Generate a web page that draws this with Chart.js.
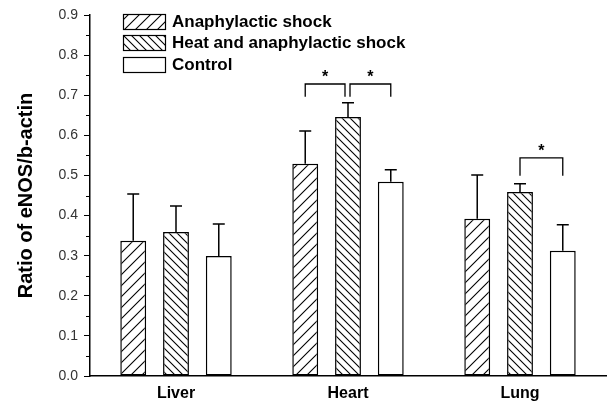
<!DOCTYPE html>
<html>
<head>
<meta charset="utf-8">
<script src="https://cdn.jsdelivr.net/npm/chart.js@4"></script>
<style>
  html, body { margin: 0; padding: 0; background: #fff; }
  #wrap { width: 608px; height: 403px; }
</style>
</head>
<body>
<div id="wrap"><canvas id="eNOSChart"></canvas></div>
<script>
/* ================= DATA ================= */

const organs = ['Liver', 'Heart', 'Lung'];
const seriesNames = ['Anaphylactic shock', 'Heat and anaphylactic shock', 'Control'];

const anaphylactic = [0.337, 0.529, 0.392];
const heatAnaphylactic = [0.359, 0.646, 0.459];
const control = [0.299, 0.484, 0.312];

// upper end of the error bars
const anaphylacticErr = [0.454, 0.611, 0.501];
const heatAnaphylacticErr = [0.424, 0.681, 0.479];
const controlErr = [0.379, 0.514, 0.377];

const yTicks = [0, 0.1, 0.2, 0.3, 0.4, 0.5, 0.6, 0.7, 0.8, 0.9];

// significance brackets: organ index, dataset from/to, top and leg ends
const bracketCat = [1, 1, 2];
const bracketFrom = [0, 1, 1];
const bracketTo = [1, 2, 2];
const bracketTop = [0.728, 0.728, 0.544];
const bracketEnd = [0.696, 0.696, 0.499];

/* ================= PATTERNS ================= */

function hatch(size, dir) {
    const c = document.createElement('canvas');
    c.width = size; c.height = size;
    const g = c.getContext('2d');
    g.fillStyle = '#fff';
    g.fillRect(0, 0, size, size);
    g.strokeStyle = '#000';
    g.lineWidth = 1.1;
    g.beginPath();
    if (dir === '/') {
        g.moveTo(-1, size + 1); g.lineTo(size + 1, -1);
        g.moveTo(-1, 1); g.lineTo(1, -1);
        g.moveTo(size - 1, size + 1); g.lineTo(size + 1, size - 1);
    } else {
        g.moveTo(-1, -1); g.lineTo(size + 1, size + 1);
        g.moveTo(size - 1, -1); g.lineTo(size + 1, 1);
        g.moveTo(-1, size - 1); g.lineTo(1, size + 1);
    }
    g.stroke();
    return g.createPattern(c, 'repeat');
}

const fills = [hatch(11, '/'), hatch(8, '\\'), '#ffffff'];
const errors = [anaphylacticErr, heatAnaphylacticErr, controlErr];

/* ================= PLUGIN: error bars, brackets, legend, labels ================= */

const extras = {
    id: 'extras',
    afterDatasetsDraw(chart) {
        const ctx = chart.ctx;
        const y = chart.scales.y;
        const area = chart.chartArea;

        ctx.save();
        ctx.strokeStyle = '#000';
        ctx.lineWidth = 1.5;

        // error bars
        chart.data.datasets.forEach((ds, i) => {
            const meta = chart.getDatasetMeta(i);
            meta.data.forEach((bar, j) => {
                const yTop = y.getPixelForValue(errors[i][j]);
                ctx.beginPath();
                ctx.moveTo(bar.x, bar.y);
                ctx.lineTo(bar.x, yTop);
                ctx.moveTo(bar.x - 6, yTop);
                ctx.lineTo(bar.x + 6, yTop);
                ctx.stroke();
            });
        });

        // minor ticks
        ctx.lineWidth = 1;
        for (let k = 0; k < yTicks.length - 1; k++) {
            const py = Math.round(y.getPixelForValue(yTicks[k] + 0.05)) + 0.5;
            ctx.beginPath();
            ctx.moveTo(area.left - 4, py);
            ctx.lineTo(area.left, py);
            ctx.stroke();
        }

        // significance brackets
        ctx.lineWidth = 1.3;
        ctx.fillStyle = '#000';
        ctx.font = 'bold 16px "Liberation Sans", Arial, sans-serif';
        ctx.textAlign = 'center';
        ctx.textBaseline = 'middle';
        for (let k = 0; k < bracketCat.length; k++) {
            const c = bracketCat[k];
            let x1 = chart.getDatasetMeta(bracketFrom[k]).data[c].x;
            let x2 = chart.getDatasetMeta(bracketTo[k]).data[c].x;
            // neighbouring brackets on the same organ leave a small gap
            if (k === 0) x2 -= 3;
            if (k === 1) x1 += 2;
            const yt = y.getPixelForValue(bracketTop[k]);
            const ye = y.getPixelForValue(bracketEnd[k]);
            ctx.beginPath();
            ctx.moveTo(x1, ye);
            ctx.lineTo(x1, yt);
            ctx.lineTo(x2, yt);
            ctx.lineTo(x2, ye);
            ctx.stroke();
            ctx.fillText('*', (x1 + x2) / 2, yt - 6);
        }

        // legend
        ctx.font = 'bold 17px "Liberation Sans", Arial, sans-serif';
        ctx.textAlign = 'left';
        ctx.lineWidth = 1.2;
        const rows = [14, 35, 57];
        seriesNames.forEach((name, i) => {
            ctx.fillStyle = fills[i];
            ctx.fillRect(123, rows[i], 42, 15);
            ctx.strokeRect(123.5, rows[i] + 0.5, 42, 15);
            ctx.fillStyle = '#000';
            ctx.fillText(name, 172, rows[i] + 8);
        });

        // y axis title
        ctx.font = 'bold 20px "Liberation Sans", Arial, sans-serif';
        ctx.textAlign = 'center';
        ctx.translate(26, (area.top + area.bottom) / 2);
        ctx.rotate(-Math.PI / 2);
        ctx.fillText('Ratio of eNOS/b-actin', 0, 0);
        ctx.restore();
    }
};

/* ================= CHART ================= */

new Chart(document.getElementById('eNOSChart'), {

    type: 'bar',

    data: {
        labels: organs,
        datasets: [
            { label: seriesNames[0], data: anaphylactic, backgroundColor: fills[0] },
            { label: seriesNames[1], data: heatAnaphylactic, backgroundColor: fills[1] },
            { label: seriesNames[2], data: control, backgroundColor: fills[2] }
        ].map(ds => Object.assign(ds, {
            borderColor: '#000',
            borderWidth: 1.5,
            borderSkipped: false,
            categoryPercentage: 0.746,
            barPercentage: 0.605
        }))
    },

    options: {
        responsive: true,
        maintainAspectRatio: false,
        animation: false,
        layout: {
            padding: { top: 15, right: 2, left: 0, bottom: 0 }
        },
        plugins: {
            legend: { display: false },
            tooltip: { enabled: false }
        },
        scales: {
            x: {
                grid: { display: false, drawTicks: false },
                border: { color: '#000', width: 1.5 },
                ticks: {
                    color: '#000',
                    padding: 8,
                    font: { family: '"Liberation Sans", Arial, sans-serif', size: 16, weight: 'bold' }
                },
                afterFit(scale) { scale.height = 27; }
            },
            y: {
                min: 0,
                max: 0.9,
                afterBuildTicks(scale) {
                    scale.ticks = yTicks.map(v => ({ value: v }));
                },
                grid: { drawOnChartArea: false, tickLength: 6, color: '#000' },
                border: { color: '#000', width: 1.5 },
                ticks: {
                    color: '#333',
                    padding: 6,
                    font: { family: '"Liberation Sans", Arial, sans-serif', size: 14 },
                    callback: v => v.toFixed(1)
                },
                afterFit(scale) { scale.width = 90; }
            }
        }
    },

    plugins: [extras]
});
</script>
</body>
</html>
